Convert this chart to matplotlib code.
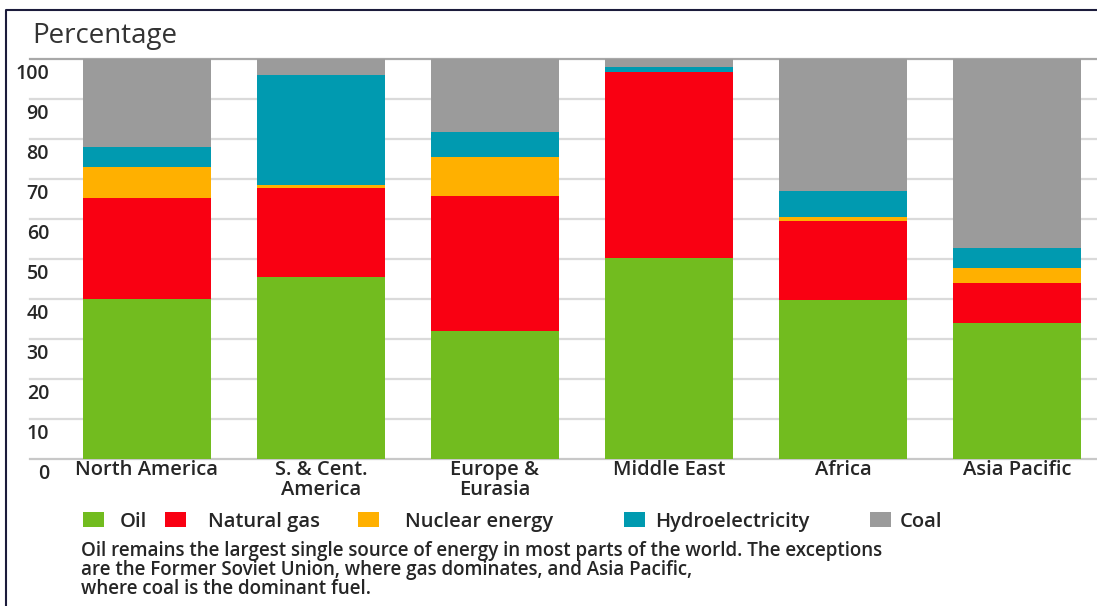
import numpy as np
import matplotlib
matplotlib.use("Agg")
import matplotlib.pyplot as plt
from matplotlib.lines import Line2D
from matplotlib.patches import Rectangle

plt.rcParams["font.family"] = ["Open Sans", "DejaVu Sans"]

# ── data (share of primary energy, %) ────────────────────────────────────────
regions = ["North America", "S. & Cent.\nAmerica", "Europe &\nEurasia",
           "Middle East", "Africa", "Asia Pacific"]
oil     = [40.0, 45.6, 32.0, 50.2, 39.8, 33.9]
gas     = [25.3, 22.1, 33.8, 46.6, 19.6, 10.2]
nuclear = [7.6,  0.8,  9.8,  0.0,  1.0,  3.7]
hydro   = [5.2, 27.5,  6.1,  1.1,  6.5,  5.0]
coal    = [21.9, 4.0, 18.3,  2.1, 33.1, 47.2]

fuels  = ["Oil", "Natural gas", "Nuclear energy", "Hydroelectricity", "Coal"]
colors = ["#72BC1F", "#F90012", "#FFB000", "#009AB0", "#9B9B9B"]
yticks = [0, 10, 20, 30, 40, 50, 60, 70, 80, 90, 100]

caption = ("Oil remains the largest single source of energy in most parts of the world. The exceptions\n"
           "are the Former Soviet Union, where gas dominates, and Asia Pacific,\n"
           "where coal is the dominant fuel.")

TXT = "#262626"
FS = 14.5

W, H = 1097, 606
fig = plt.figure(figsize=(W / 100, H / 100), dpi=100)
fx = lambda px: px / W
fy = lambda py: 1 - py / H

ax = fig.add_axes([fx(30), fy(459), fx(1097) - fx(30), fy(59) - fy(459)])
x = np.arange(len(regions))
bottom = np.zeros(len(regions))
for vals, c in zip([oil, gas, nuclear, hydro, coal], colors):
    ax.bar(x, vals, width=0.736, bottom=bottom, color=c, zorder=3, linewidth=0)
    bottom += np.array(vals)

ax.set_xlim(-0.672, 5.46)
ax.set_ylim(0, 100)
for s in ax.spines.values():
    s.set_visible(False)

# gridlines
for v in yticks:
    col = "#A8A8A8" if v == 100 else ("#C8C8C8" if v == 0 else "#DADADA")
    ax.axhline(v, color=col, lw=1.6, zorder=1, clip_on=False)

ax.set_yticks([])
for v in yticks:
    ax.annotate(str(v), xy=(19 / 1067, v), xycoords=("axes fraction", "data"),
                xytext=(0, -5), textcoords="offset pixels", ha="right", va="top",
                fontsize=14, fontweight="semibold", color=TXT,
                annotation_clip=False)

ax.set_xticks(x)
ax.set_xticklabels(regions, fontsize=FS, fontweight="semibold", color=TXT,
                   linespacing=1.0)
ax.tick_params(axis="x", length=0, pad=1)

fig.text(fx(32), fy(43), "Percentage", fontsize=20, color="#333333",
         ha="left", va="baseline")

# legend
sq_left = [83, 165, 358, 624, 870]
txt_left = [120, 208, 405, 655, 900]
for name, c, sx, tx in zip(fuels, colors, sq_left, txt_left):
    fig.patches.append(Rectangle((fx(sx), fy(527)), fx(21), fy(512) - fy(527),
                                 transform=fig.transFigure, facecolor=c,
                                 edgecolor="none"))
    fig.text(fx(tx), fy(527), name, fontsize=FS, fontweight="semibold",
             color=TXT, ha="left", va="baseline")

fig.text(fx(81), fy(541), caption, fontsize=13.5, fontweight="semibold",
         color=TXT, ha="left", va="top", linespacing=0.92)

# frame lines
fig.add_artist(Line2D([fx(6), fx(6), fx(1097)], [0, fy(10), fy(10)],
                      transform=fig.transFigure, color="#1c1c3c", lw=1.5))

fig.savefig("out.png", dpi=100)
